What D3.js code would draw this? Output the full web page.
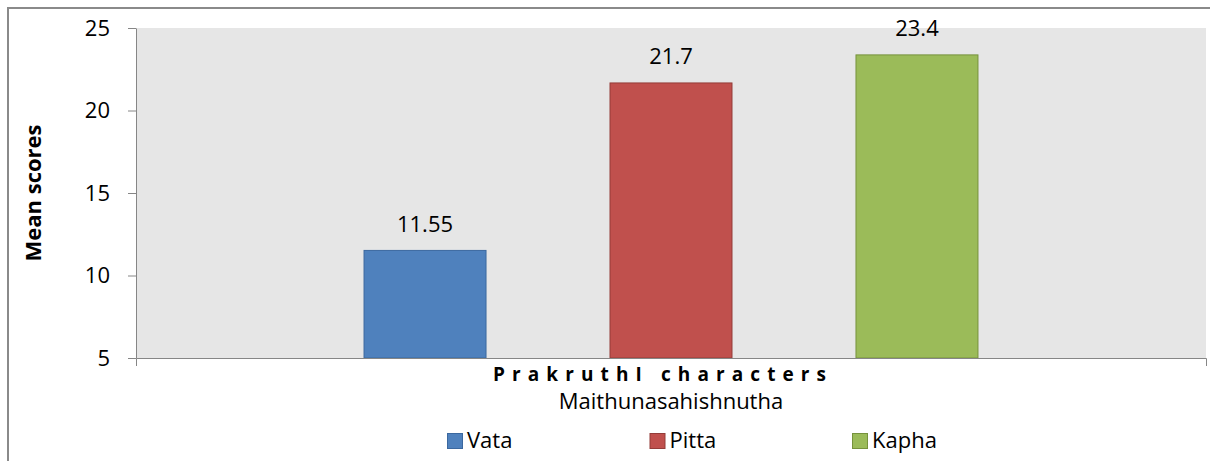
<!DOCTYPE html>
<html>
<head>
<meta charset="utf-8">
<script src="https://cdn.jsdelivr.net/npm/d3@7"></script>
<style>
    body { margin: 0; background: #fff; }
    svg { display: block; font-family: 'Open Sans', sans-serif; }
</style>
</head>
<body>
<div id="chart"></div>
<script>
var category = ['Maithunasahishnutha'];
var series = ['Vata', 'Pitta', 'Kapha'];
var values = [11.55, 21.7, 23.4];
var labels = ['11.55', '21.7', '23.4'];
var yTicks = [5, 10, 15, 20, 25];
var colors = ['#4f81bd', '#c0504d', '#9bbb59'];
var strokes = ['#3b689f', '#943c39', '#76923c'];

var width = 1210,
    height = 461;
var plot = { left: 136, right: 1206, top: 28, bottom: 358 };

var svg = d3
    .select('#chart')
    .append('svg')
    .attr('width', width)
    .attr('height', height);

// outer chart border (only left and top show in the picture)
svg.append('rect')
    .attr('x', 8)
    .attr('y', 8)
    .attr('width', 1260)
    .attr('height', 500)
    .attr('fill', 'none')
    .attr('stroke', '#8a8a8a')
    .attr('stroke-width', 2);

svg.append('rect')
    .attr('x', plot.left)
    .attr('y', plot.top)
    .attr('width', plot.right - plot.left)
    .attr('height', plot.bottom - plot.top)
    .attr('fill', '#e6e6e6');

var y = d3.scaleLinear().domain([5, 25]).range([plot.bottom, plot.top]);

var x0 = d3.scaleBand().domain(category).range([plot.left, plot.right]);

var x1 = d3
    .scaleBand()
    .domain(series)
    .range([plot.left, plot.right])
    .paddingInner(0.5)
    .paddingOuter(0.925);

// y axis
var yAxis = svg
    .append('g')
    .attr('transform', 'translate(' + plot.left + ',0)')
    .call(
        d3
            .axisLeft(y)
            .tickValues(yTicks)
            .tickSizeInner(8)
            .tickSizeOuter(0)
            .tickPadding(18)
    );
yAxis.selectAll('path, line').attr('stroke', '#868686');
yAxis.selectAll('text')
    .attr('fill', '#000')
    .style('font-size', '22px')
    .style('font-family', 'Open Sans');

// bars
svg.selectAll('.bar')
    .data(values)
    .enter()
    .append('rect')
    .attr('class', 'bar')
    .attr('x', (d, i) => x1(series[i]) + 0.5)
    .attr('y', d => y(d) + 0.5)
    .attr('width', x1.bandwidth() - 1)
    .attr('height', d => plot.bottom - y(d) - 0.5)
    .attr('fill', (d, i) => colors[i])
    .attr('stroke', (d, i) => strokes[i])
    .attr('stroke-width', 1);

// value labels
svg.selectAll('.vlabel')
    .data(values)
    .enter()
    .append('text')
    .attr('class', 'vlabel')
    .attr('x', (d, i) => x1(series[i]) + x1.bandwidth() / 2)
    .attr('y', d => y(d) - 18)
    .attr('text-anchor', 'middle')
    .style('font-size', '22px')
    .text((d, i) => labels[i]);

// x axis
var xAxis = svg
    .append('g')
    .attr('transform', 'translate(0,' + plot.bottom + ')')
    .call(d3.axisBottom(x0).tickSizeInner(0).tickSizeOuter(8).tickFormat(''));
xAxis.selectAll('path, line').attr('stroke', '#868686');

// category label
svg.selectAll('.cat')
    .data(category)
    .enter()
    .append('text')
    .attr('class', 'cat')
    .attr('x', d => x0(d) + x0.bandwidth() / 2)
    .attr('y', 409)
    .attr('text-anchor', 'middle')
    .style('font-size', '22px')
    .text(d => d);

// x axis title
svg.append('text')
    .attr('x', 493)
    .attr('y', 381)
    .attr('textLength', 333)
    .attr('lengthAdjust', 'spacing')
    .style('font-size', '19px')
    .style('font-weight', 'bold')
    .text('PrakruthI characters');

// y axis title
svg.append('text')
    .attr('transform', 'translate(41,' + (plot.top + plot.bottom) / 2 + ') rotate(-90)')
    .attr('text-anchor', 'middle')
    .style('font-size', '22px')
    .style('font-weight', 'bold')
    .text('Mean scores');

// legend
var lx = d3.scaleBand().domain(series).range([447, 447 + 3 * 202.5]);
var legend = svg
    .selectAll('.legend')
    .data(series)
    .enter()
    .append('g')
    .attr('class', 'legend')
    .attr('transform', d => 'translate(' + lx(d) + ',433)');
legend
    .append('rect')
    .attr('x', 0.5)
    .attr('y', 0.5)
    .attr('width', 15)
    .attr('height', 15)
    .attr('fill', (d, i) => colors[i])
    .attr('stroke', (d, i) => strokes[i]);
legend
    .append('text')
    .attr('x', 20)
    .attr('y', 15)
    .style('font-size', '22px')
    .text(d => d);
</script>
</body>
</html>
